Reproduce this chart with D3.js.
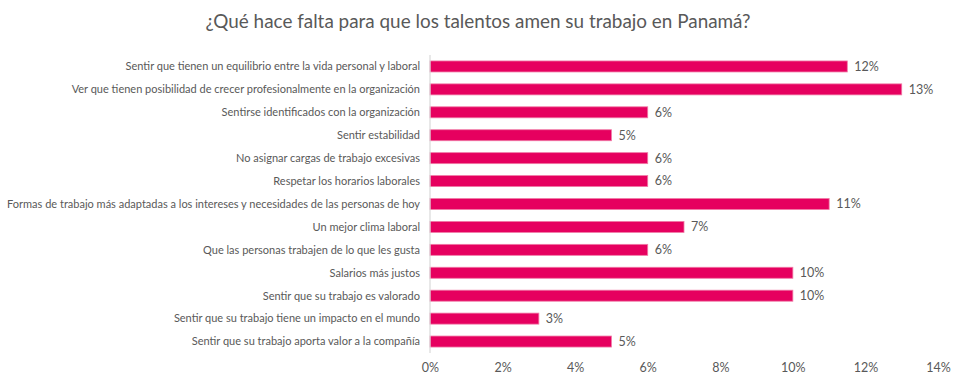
<!DOCTYPE html>
<html>
<head>
<meta charset="utf-8">
<script src="https://cdn.jsdelivr.net/npm/d3@7"></script>
<style>
  body { margin: 0; background: #fff; }
  svg text { font-family: Lato, Calibri, sans-serif; fill: #595959; }
</style>
</head>
<body>
<div id="chart"></div>
<script>
// data
const categories = [
  'Sentir que tienen un equilibrio entre la vida personal y laboral',
  'Ver que tienen posibilidad de crecer profesionalmente en la organización',
  'Sentirse identificados con la organización',
  'Sentir estabilidad',
  'No asignar cargas de trabajo excesivas',
  'Respetar los horarios laborales',
  'Formas de trabajo más adaptadas a los intereses y necesidades de las personas de hoy',
  'Un mejor clima laboral',
  'Que las personas trabajen de lo que les gusta',
  'Salarios más justos',
  'Sentir que su trabajo es valorado',
  'Sentir que su trabajo tiene un impacto en el mundo',
  'Sentir que su trabajo aporta valor a la compañía'
];
const values = [11.5, 13, 6, 5, 6, 6, 11, 7, 6, 10, 10, 3, 5];
const ticks = [0, 2, 4, 6, 8, 10, 12, 14];
const title = '¿Qué hace falta para que los talentos amen su trabajo en Panamá?';

const W = 966, H = 388;
const margin = {top: 55, right: 28, bottom: 35, left: 430};

let svg = d3.select('#chart').append('svg')
    .attr('width', W)
    .attr('height', H);

svg.append('text')
    .attr('x', 478)
    .attr('y', 28)
    .attr('text-anchor', 'middle')
    .style('font-size', '18.9px')
    .text(title);

let x = d3.scaleLinear()
    .domain([0, 14])
    .range([margin.left, W - margin.right]);

let y = d3.scaleBand()
    .domain(categories)
    .range([margin.top, H - margin.bottom])
    .paddingInner(0.52)
    .paddingOuter(0.26);

// bars
svg.append('g')
    .selectAll('rect')
    .data(categories)
    .join('rect')
    .attr('x', x(0))
    .attr('y', d => y(d))
    .attr('width', (d, i) => x(values[i]) - x(0))
    .attr('height', y.bandwidth())
    .attr('fill', '#e6005f')
    .attr('stroke', '#f07aa6')
    .attr('stroke-width', 0.8);

// value labels
svg.append('g')
    .selectAll('text')
    .data(categories)
    .join('text')
    .attr('x', (d, i) => x(values[i]) + 7)
    .attr('y', d => y(d) + y.bandwidth() / 2)
    .attr('dy', '0.35em')
    .style('font-size', '12.5px')
    .text((d, i) => Math.round(values[i]) + '%');

// category labels
svg.append('g')
    .selectAll('text')
    .data(categories)
    .join('text')
    .attr('x', x(0) - 10)
    .attr('y', d => y(d) + y.bandwidth() / 2)
    .attr('dy', '0.35em')
    .attr('text-anchor', 'end')
    .style('font-size', '11px')
    .text(d => d);

// axis line
svg.append('line')
    .attr('x1', x(0)).attr('x2', x(0))
    .attr('y1', margin.top).attr('y2', H - margin.bottom)
    .attr('stroke', '#d9d9d9')
    .attr('stroke-width', 1.2);

// x tick labels
let xAxis = svg.append('g')
    .attr('transform', `translate(0, ${H - margin.bottom})`)
    .call(d3.axisBottom(x).tickValues(ticks).tickFormat(d => d + '%').tickSize(0).tickPadding(10));
xAxis.select('.domain').remove();
xAxis.selectAll('text')
    .style('font-size', '12.5px')
    .style('font-family', 'Lato, Calibri, sans-serif')
    .attr('fill', '#595959');
</script>
</body>
</html>
